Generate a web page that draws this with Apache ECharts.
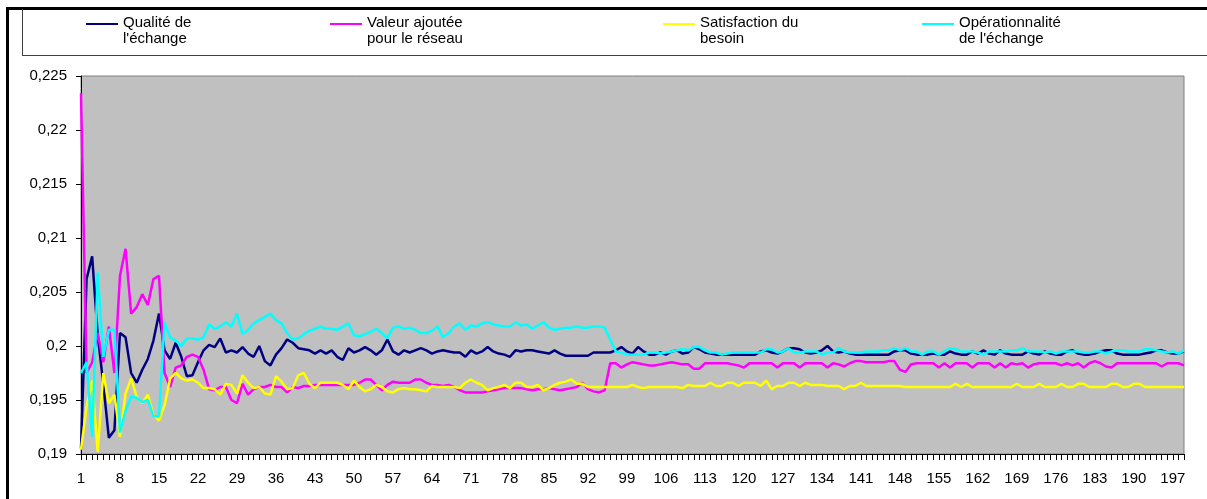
<!DOCTYPE html>
<html>
<head>
<meta charset="utf-8">
<script src="https://cdn.jsdelivr.net/npm/echarts@6/dist/echarts.min.js"></script>
<style>
  html, body { margin: 0; padding: 0; background: #fff; }
  #chart { width: 1207px; height: 499px; }
</style>
</head>
<body>
<div id="chart"></div>
<script>
// series names (legend labels)
const seriesNames = [
  'Qualité de\nl\'échange',
  'Valeur ajoutée\npour le réseau',
  'Satisfaction du\nbesoin',
  'Opérationnalité\nde l\'échange'
]
const seriesColors = ['#000080', '#ff00ff', '#ffff00', '#00ffff']

// x categories: 1..199
const categories = Array.from({ length: 199 }, (_, i) => String(i + 1))

// y axis ticks
const yMin = 0.19
const yMax = 0.225
const yStep = 0.005

const qualite = [
  0.1905, 0.2062, 0.2083, 0.2010, 0.1965, 0.1915, 0.1922, 0.2012, 0.2008, 0.1975,
  0.1966, 0.1978, 0.1988, 0.2005, 0.2030, 0.1996, 0.1988, 0.2003, 0.1990, 0.1972,
  0.1973, 0.1985, 0.1996, 0.2001, 0.1999, 0.2007, 0.1994, 0.1996, 0.1994, 0.1999,
  0.1993, 0.1990, 0.2000, 0.1986, 0.1982, 0.1992, 0.1998, 0.2006, 0.2003, 0.1998,
  0.1997, 0.1996, 0.1993, 0.1996, 0.1993, 0.1996, 0.1990, 0.1987, 0.1998, 0.1994,
  0.1996, 0.1999, 0.1996, 0.1992, 0.1996, 0.2006, 0.1995, 0.1992, 0.1996, 0.1994,
  0.1996, 0.1998, 0.1996, 0.1993, 0.1995, 0.1996, 0.1995, 0.1994, 0.1994, 0.1990,
  0.1996, 0.1993, 0.1995, 0.1999, 0.1995, 0.1993, 0.1992, 0.1990, 0.1996, 0.1995,
  0.1996, 0.1996, 0.1995, 0.1994, 0.1993, 0.1996, 0.1993, 0.1991, 0.1991, 0.1991,
  0.1991, 0.1991, 0.1994, 0.1994, 0.1994, 0.1994, 0.1996, 0.1999, 0.1995, 0.1993,
  0.1999, 0.1995, 0.1992, 0.1992, 0.1994, 0.1992, 0.1995, 0.1996, 0.1993, 0.1994,
  0.1999, 0.1997, 0.1994, 0.1993, 0.1992, 0.1992, 0.1992, 0.1992, 0.1992, 0.1992,
  0.1992, 0.1992, 0.1995, 0.1996, 0.1994, 0.1993, 0.1995, 0.1998, 0.1998, 0.1997,
  0.1994, 0.1993, 0.1994, 0.1996, 0.2000, 0.1995, 0.1994, 0.1995, 0.1993, 0.1992,
  0.1992, 0.1992, 0.1992, 0.1992, 0.1992, 0.1992, 0.1995, 0.1996, 0.1996, 0.1993,
  0.1992, 0.1992, 0.1992, 0.1993, 0.1992, 0.1992, 0.1995, 0.1993, 0.1992, 0.1992,
  0.1995, 0.1993, 0.1996, 0.1993, 0.1992, 0.1996, 0.1993, 0.1992, 0.1992, 0.1992,
  0.1995, 0.1993, 0.1992, 0.1995, 0.1993, 0.1992, 0.1992, 0.1995, 0.1996, 0.1993,
  0.1992, 0.1992, 0.1993, 0.1995, 0.1996, 0.1996, 0.1993, 0.1992, 0.1992, 0.1992,
  0.1992, 0.1993, 0.1994, 0.1996, 0.1996, 0.1994, 0.1993, 0.1993, 0.1995
]

const valeur = [
  0.2234, 0.1975, 0.1985, 0.2012, 0.1985, 0.2018, 0.1975, 0.2065, 0.2090, 0.2030,
  0.2036, 0.2048, 0.2038, 0.2062, 0.2065, 0.1975, 0.1962, 0.1980, 0.1982, 0.1990,
  0.1992, 0.1990, 0.1978, 0.1960, 0.1959, 0.1962, 0.1962, 0.1950, 0.1947, 0.1965,
  0.1955, 0.1960, 0.1962, 0.1962, 0.1964, 0.1962, 0.1962, 0.1957, 0.1962, 0.1961,
  0.1963, 0.1963, 0.1964, 0.1964, 0.1964, 0.1964, 0.1964, 0.1964, 0.1964, 0.1964,
  0.1966, 0.1969, 0.1969, 0.1964, 0.1959, 0.1964, 0.1967, 0.1966, 0.1966, 0.1966,
  0.1969, 0.1969, 0.1966, 0.1964, 0.1964, 0.1963, 0.1964, 0.1962, 0.1959, 0.1957,
  0.1957, 0.1957, 0.1957, 0.1958, 0.1959, 0.1960, 0.1961, 0.1961, 0.1961, 0.1961,
  0.1960, 0.1959, 0.1960, 0.1960, 0.1961, 0.1960, 0.1959, 0.1960, 0.1961, 0.1962,
  0.1966, 0.1960, 0.1958, 0.1957, 0.1959, 0.1984, 0.1984, 0.1980, 0.1983, 0.1985,
  0.1984, 0.1983, 0.1982, 0.1982, 0.1983, 0.1984, 0.1985, 0.1984, 0.1983, 0.1983,
  0.1979, 0.1979, 0.1984, 0.1984, 0.1984, 0.1984, 0.1984, 0.1983, 0.1982, 0.1980,
  0.1984, 0.1984, 0.1984, 0.1984, 0.1984, 0.1980, 0.1984, 0.1984, 0.1984, 0.1980,
  0.1984, 0.1984, 0.1984, 0.1984, 0.1980, 0.1984, 0.1983, 0.1981, 0.1984, 0.1986,
  0.1986, 0.1985, 0.1985, 0.1985, 0.1985, 0.1986, 0.1986, 0.1978, 0.1976, 0.1983,
  0.1984, 0.1984, 0.1984, 0.1984, 0.1980, 0.1984, 0.1980, 0.1984, 0.1984, 0.1984,
  0.1980, 0.1984, 0.1984, 0.1984, 0.1980, 0.1984, 0.1980, 0.1984, 0.1983, 0.1984,
  0.1980, 0.1983, 0.1984, 0.1984, 0.1984, 0.1984, 0.1982, 0.1984, 0.1982, 0.1984,
  0.1980, 0.1984, 0.1986, 0.1984, 0.1981, 0.1980, 0.1984, 0.1984, 0.1984, 0.1984,
  0.1984, 0.1984, 0.1984, 0.1984, 0.1981, 0.1984, 0.1984, 0.1984, 0.1982
]

const satisfaction = [
  0.1904, 0.1944, 0.1968, 0.1902, 0.1975, 0.1947, 0.1955, 0.1916, 0.1956, 0.1970,
  0.1953, 0.1947, 0.1955, 0.1936, 0.1931, 0.1945, 0.1970, 0.1975, 0.1970, 0.1968,
  0.1969, 0.1966, 0.1961, 0.1961, 0.1960, 0.1955, 0.1965, 0.1964, 0.1956, 0.1973,
  0.1966, 0.1961, 0.1962, 0.1956, 0.1955, 0.1972, 0.1967, 0.1960, 0.1961, 0.1973,
  0.1975, 0.1965, 0.1961, 0.1966, 0.1966, 0.1966, 0.1966, 0.1964, 0.1960, 0.1968,
  0.1962, 0.1958, 0.1960, 0.1964, 0.1962, 0.1958, 0.1957, 0.1960, 0.1961, 0.1960,
  0.1960, 0.1959, 0.1958, 0.1963, 0.1962, 0.1962, 0.1962, 0.1962, 0.1961, 0.1966,
  0.1969, 0.1966, 0.1964, 0.1959, 0.1961, 0.1962, 0.1964, 0.1961, 0.1966, 0.1966,
  0.1962, 0.1962, 0.1964, 0.1959, 0.1961, 0.1964, 0.1966, 0.1967, 0.1969, 0.1965,
  0.1965, 0.1962, 0.1962, 0.1962, 0.1962, 0.1962, 0.1962, 0.1962, 0.1962, 0.1964,
  0.1962, 0.1961, 0.1962, 0.1962, 0.1962, 0.1962, 0.1962, 0.1962, 0.1961, 0.1964,
  0.1963, 0.1963, 0.1963, 0.1966, 0.1963, 0.1963, 0.1966, 0.1966, 0.1963, 0.1966,
  0.1966, 0.1966, 0.1963, 0.1968, 0.1960, 0.1963, 0.1963, 0.1966, 0.1966, 0.1963,
  0.1966, 0.1964, 0.1964, 0.1964, 0.1963, 0.1963, 0.1963, 0.1960, 0.1963, 0.1963,
  0.1966, 0.1963, 0.1963, 0.1963, 0.1963, 0.1963, 0.1963, 0.1963, 0.1962, 0.1962,
  0.1962, 0.1962, 0.1962, 0.1962, 0.1962, 0.1962, 0.1962, 0.1965, 0.1962, 0.1965,
  0.1962, 0.1962, 0.1962, 0.1962, 0.1962, 0.1962, 0.1962, 0.1962, 0.1965, 0.1962,
  0.1962, 0.1962, 0.1965, 0.1962, 0.1962, 0.1962, 0.1965, 0.1962, 0.1962, 0.1965,
  0.1965, 0.1962, 0.1962, 0.1962, 0.1962, 0.1965, 0.1965, 0.1962, 0.1962, 0.1965,
  0.1965, 0.1962, 0.1962, 0.1962, 0.1962, 0.1962, 0.1962, 0.1962, 0.1962
]

const operationnalite = [
  0.1975, 0.1985, 0.1916, 0.2068, 0.1990, 0.2015, 0.2015, 0.1920, 0.1940, 0.1953,
  0.1952, 0.1948, 0.1950, 0.1935, 0.1935, 0.2022, 0.2008, 0.2005, 0.2000, 0.2007,
  0.2007, 0.2006, 0.2008, 0.2020, 0.2016, 0.2018, 0.2022, 0.2018, 0.2030, 0.2011,
  0.2015, 0.2021, 0.2024, 0.2027, 0.2030, 0.2024, 0.2021, 0.2012, 0.2006, 0.2007,
  0.2011, 0.2014, 0.2016, 0.2018, 0.2016, 0.2016, 0.2015, 0.2018, 0.2021, 0.2010,
  0.2009, 0.2011, 0.2013, 0.2016, 0.2012, 0.2007, 0.2017, 0.2018, 0.2016, 0.2017,
  0.2015, 0.2012, 0.2012, 0.2014, 0.2018, 0.2008, 0.2012, 0.2018, 0.2021, 0.2015,
  0.2019, 0.2018, 0.2021, 0.2022, 0.2020, 0.2019, 0.2018, 0.2018, 0.2022, 0.2019,
  0.2020, 0.2016, 0.2019, 0.2022, 0.2017, 0.2015, 0.2016, 0.2017, 0.2017, 0.2018,
  0.2017, 0.2017, 0.2018, 0.2018, 0.2017, 0.2006, 0.1995, 0.1994, 0.1992, 0.1992,
  0.1992, 0.1992, 0.1994, 0.1994, 0.1993, 0.1994, 0.1995, 0.1996, 0.1997, 0.1996,
  0.1999, 0.1999, 0.1996, 0.1994, 0.1994, 0.1992, 0.1993, 0.1994, 0.1994, 0.1994,
  0.1994, 0.1994, 0.1994, 0.1997, 0.1997, 0.1994, 0.1995, 0.1998, 0.1994, 0.1994,
  0.1995, 0.1995, 0.1995, 0.1992, 0.1994, 0.1994, 0.1998, 0.1995, 0.1994, 0.1994,
  0.1994, 0.1995, 0.1995, 0.1995, 0.1996, 0.1996, 0.1998, 0.1996, 0.1998, 0.1995,
  0.1995, 0.1992, 0.1995, 0.1995, 0.1992, 0.1995, 0.1998, 0.1997, 0.1995, 0.1995,
  0.1995, 0.1994, 0.1992, 0.1995, 0.1995, 0.1995, 0.1995, 0.1996, 0.1996, 0.1998,
  0.1995, 0.1995, 0.1995, 0.1994, 0.1995, 0.1993, 0.1995, 0.1995, 0.1995, 0.1995,
  0.1994, 0.1994, 0.1995, 0.1995, 0.1993, 0.1995, 0.1996, 0.1996, 0.1995, 0.1995,
  0.1995, 0.1997, 0.1997, 0.1996, 0.1995, 0.1994, 0.1995, 0.1993, 0.1996
]

const seriesData = [qualite, valeur, satisfaction, operationnalite]
const legendLeft = [86, 330, 663, 922]

const fontFamily = '"Liberation Sans", Arial, sans-serif'
// line drawn at the top of the icon box, so it sits on the first text line
const legendIcon = 'path://M0,0H32V4H0Z M0,31.9H0.1V32H0Z'

const chart = echarts.init(document.getElementById('chart'), null, { renderer: 'canvas' })

const option = {
  animation: false,
  backgroundColor: '#ffffff',
  textStyle: { fontFamily },
  legend: seriesNames.map((name, i) => ({
    data: [name],
    left: legendLeft[i],
    top: 15,
    padding: 0,
    icon: legendIcon,
    symbolKeepAspect: false,
    itemWidth: 32,
    itemHeight: 16,
    itemStyle: { borderWidth: 0 },
    selectedMode: false,
    textStyle: { fontSize: 15, lineHeight: 16, color: '#000', fontFamily }
  })),
  grid: {
    show: true,
    left: 81,
    right: 23,
    top: 76,
    bottom: 45,
    backgroundColor: '#c0c0c0',
    borderColor: '#808080',
    borderWidth: 1
  },
  xAxis: {
    type: 'category',
    data: categories,
    boundaryGap: false,
    axisLine: { lineStyle: { color: '#000', width: 1 } },
    axisTick: { interval: 0, length: 6, lineStyle: { color: '#000' } },
    axisLabel: { interval: 6, margin: 17, fontSize: 15, color: '#000', fontFamily },
    splitLine: { show: false }
  },
  yAxis: {
    type: 'value',
    min: yMin,
    max: yMax,
    interval: yStep,
    axisLine: { show: true, lineStyle: { color: '#000', width: 1 } },
    axisTick: { show: true, length: 5, lineStyle: { color: '#000' } },
    axisLabel: {
      margin: 14,
      fontSize: 15,
      color: '#000',
      fontFamily,
      formatter: v => String(+v.toFixed(3)).replace('.', ',')
    },
    splitLine: { show: false }
  },
  series: seriesNames.map((name, i) => ({
    name,
    type: 'line',
    data: seriesData[i],
    showSymbol: false,
    symbol: 'none',
    color: seriesColors[i],
    lineStyle: { color: seriesColors[i], width: 2.5 },
    itemStyle: { color: seriesColors[i] }
  })),
  graphic: [
    // outer frame
    { type: 'rect', left: 6, top: 7, shape: { width: 1201, height: 3 }, style: { fill: '#000' }, silent: true },
    { type: 'rect', left: 6, top: 7, shape: { width: 3, height: 492 }, style: { fill: '#000' }, silent: true },
    // legend box
    { type: 'rect', left: 22, top: 9, shape: { width: 1, height: 47 }, style: { fill: '#404040' }, silent: true },
    { type: 'rect', left: 22, top: 55, shape: { width: 1185, height: 1 }, style: { fill: '#404040' }, silent: true }
  ]
}

chart.setOption(option)
</script>
</body>
</html>
